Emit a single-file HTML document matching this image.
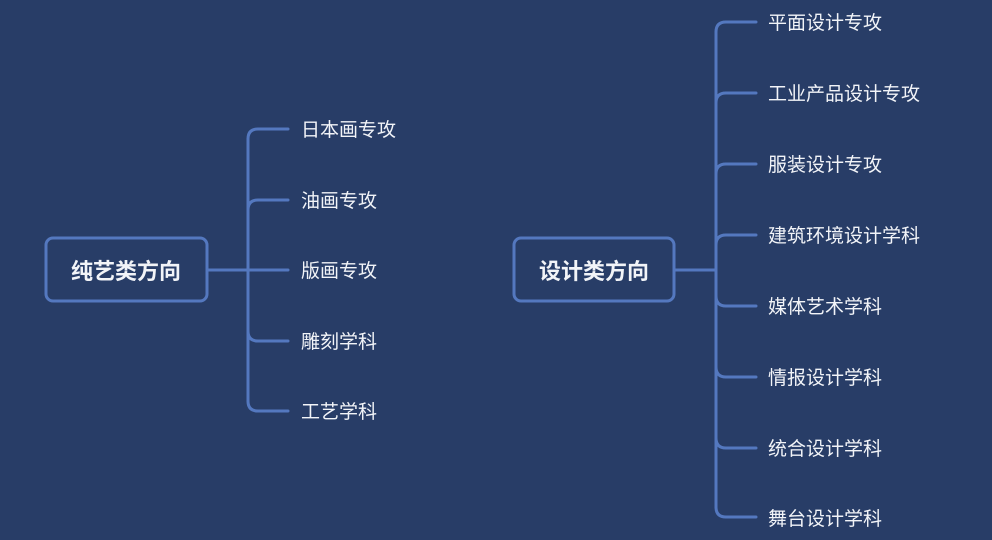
<!DOCTYPE html>
<html><head><meta charset="utf-8"><style>
html,body{margin:0;padding:0;background:#283d67;}
svg{display:block}
text{font-family:"Liberation Sans","Noto Sans CJK SC",sans-serif;fill:#f2f4f8;}
</style></head><body>
<svg width="992" height="540" viewBox="0 0 992 540" xmlns="http://www.w3.org/2000/svg">
<rect width="992" height="540" fill="#283d67"/>
<g fill="none" stroke="#5478bf" stroke-width="3" stroke-linecap="round">
<rect x="46" y="238" width="161" height="63" rx="7"/>
<path d="M207 270 H288"/>
<path d="M248 139 V401"/>
<path d="M248 139 Q248 129 258 129 H288"/>
<path d="M248 210 Q248 200 258 200 H288"/>
<path d="M248 331 Q248 341 258 341 H288"/>
<path d="M248 401 Q248 411 258 411 H288"/>
<rect x="514" y="238" width="160" height="63" rx="7"/>
<path d="M674 270 H716"/>
<path d="M716 32 V507"/>
<path d="M716 32 Q716 22 726 22 H756"/>
<path d="M716 103 Q716 93 726 93 H756"/>
<path d="M716 174 Q716 164 726 164 H756"/>
<path d="M716 245 Q716 235 726 235 H756"/>
<path d="M716 296 Q716 306 726 306 H756"/>
<path d="M716 367 Q716 377 726 377 H756"/>
<path d="M716 438 Q716 448 726 448 H756"/>
<path d="M716 507 Q716 517 726 517 H756"/>
</g>
<g font-size="22" font-weight="bold" text-anchor="middle">
<text x="126" y="279">纯艺类方向</text>
<text x="594" y="279">设计类方向</text>
</g>
<g font-size="19">
<text x="301" y="136">日本画专攻</text>
<text x="301" y="207">油画专攻</text>
<text x="301" y="277">版画专攻</text>
<text x="301" y="348">雕刻学科</text>
<text x="301" y="418">工艺学科</text>
<text x="768" y="29">平面设计专攻</text>
<text x="768" y="100">工业产品设计专攻</text>
<text x="768" y="171">服装设计专攻</text>
<text x="768" y="242">建筑环境设计学科</text>
<text x="768" y="313">媒体艺术学科</text>
<text x="768" y="384">情报设计学科</text>
<text x="768" y="455">统合设计学科</text>
<text x="768" y="525">舞台设计学科</text>
</g>
</svg>
</body></html>
